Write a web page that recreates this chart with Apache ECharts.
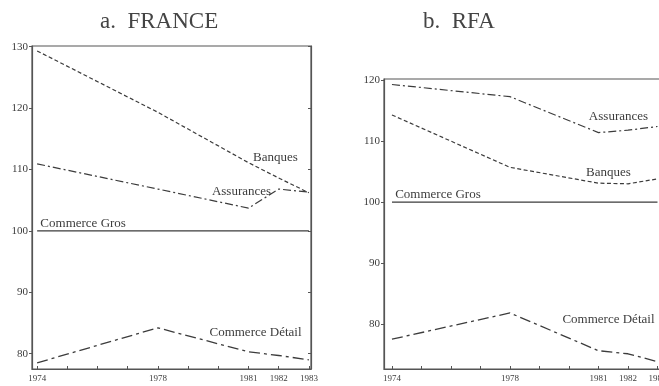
<!DOCTYPE html>
<html>
<head>
<meta charset="utf-8">
<script src="https://cdn.jsdelivr.net/npm/echarts@6/dist/echarts.min.js"></script>
<style>
  html, body { margin: 0; padding: 0; background: #ffffff; }
  #chart { width: 659px; height: 386px; }
</style>
</head>
<body>
<div id="chart"></div>
<script>
// Years observed, and the year ticks / labels on the time axis
const years = [1974, 1978, 1981, 1982, 1983];
const xTickYears = [1974, 1975, 1976, 1977, 1978, 1979, 1980, 1981, 1982, 1983];
const xLabelYears = [1974, 1978, 1981, 1982, 1983];

// a. FRANCE (index, base 100 = Commerce Gros)
const franceBanques = [129.3, 119.3, 111.1, 108.6, 106.2];
const franceAssurances = [110.9, 106.8, 103.7, 106.8, 106.3];
const franceGros = [100, 100, 100, 100, 100];
const franceDetail = [78.5, 84.2, 80.3, 79.7, 79.0];
const franceYTicks = [80, 90, 100, 110, 120, 130];

// b. RFA
const rfaBanques = [114.3, 105.7, 103.1, 103.0, 103.8];
const rfaAssurances = [119.3, 117.3, 111.4, 111.8, 112.4];
const rfaGros = [100, 100, 100, 100, 100];
const rfaDetail = [77.5, 81.8, 75.6, 75.1, 73.8];
const rfaYTicks = [80, 90, 100, 110, 120];

const SERIF = 'Liberation Serif';
const INK = '#3c3c3c';
const AXIS = '#555555';

const styles = {
  'Banques': { type: [4, 2.5], width: 1.2 },
  'Assurances': { type: [8, 3, 2, 3], width: 1.2 },
  'Commerce Gros': { type: 'solid', width: 1.3 },
  'Commerce Détail': { type: [11, 4, 3, 4], width: 1.3 }
};

function pairs(vals) {
  return years.map((y, i) => [y, vals[i]]);
}

// One line per sector; its name is written next to the anchor point
function sector(name, vals, grid, anchor, offset) {
  return {
    type: 'line',
    name: name,
    xAxisIndex: grid,
    yAxisIndex: grid === 0 ? 0 : 2,
    data: pairs(vals),
    showSymbol: false,
    symbol: 'none',
    silent: true,
    animation: false,
    lineStyle: Object.assign({ color: INK }, styles[name]),
    markPoint: {
      symbol: 'circle',
      symbolSize: 0,
      silent: true,
      animation: false,
      data: [{
        coord: [years[anchor], vals[anchor]],
        label: {
          show: true,
          position: 'inside',
          offset: offset,
          formatter: name,
          fontFamily: SERIF,
          fontSize: 13,
          color: INK,
          align: 'center',
          verticalAlign: 'middle'
        }
      }]
    }
  };
}

function xAxis(grid, min, max) {
  return {
    type: 'value',
    gridIndex: grid,
    min: min,
    max: max,
    axisLine: { show: true, onZero: false, lineStyle: { color: AXIS, width: 1.2 } },
    axisTick: { show: true, inside: true, length: 3, customValues: xTickYears, lineStyle: { color: AXIS } },
    axisLabel: {
      customValues: xLabelYears,
      fontFamily: SERIF, fontSize: 9, color: INK, margin: 5,
      formatter: v => String(v)
    },
    splitLine: { show: false }
  };
}

function yAxis(grid, min, max, ticks, side, labels) {
  return {
    type: 'value',
    gridIndex: grid,
    position: side,
    min: min,
    max: max,
    axisLine: { show: true, onZero: false, lineStyle: { color: AXIS, width: 1.2 } },
    axisTick: { show: true, inside: side === 'right', length: 3, customValues: ticks, lineStyle: { color: AXIS } },
    axisLabel: {
      show: labels,
      customValues: ticks,
      fontFamily: SERIF, fontSize: 11, color: INK, margin: 4
    },
    splitLine: { show: false }
  };
}

const chart = echarts.init(document.getElementById('chart'), null, { renderer: 'canvas' });

chart.setOption({
  backgroundColor: '#ffffff',
  animation: false,
  graphic: [
    { type: 'text', left: 100, top: 10, style: { text: 'a.  FRANCE', font: '23px "Liberation Serif"', fill: '#444' } },
    { type: 'text', left: 423, top: 10, style: { text: 'b.  RFA', font: '23px "Liberation Serif"', fill: '#444' } }
  ],
  grid: [
    { left: 32, top: 46, width: 279, height: 323, outerBoundsMode: 'none', show: true, borderColor: AXIS, borderWidth: 1.2, backgroundColor: 'transparent' },
    { left: 384, top: 79, width: 290, height: 290, outerBoundsMode: 'none', show: true, borderColor: AXIS, borderWidth: 1.2, backgroundColor: 'transparent' }
  ],
  xAxis: [
    xAxis(0, 1973.83, 1983.07),
    xAxis(1, 1973.73, 1983.56)
  ],
  yAxis: [
    yAxis(0, 77.5, 130.1, franceYTicks, 'left', true),
    yAxis(0, 77.5, 130.1, franceYTicks, 'right', false),
    yAxis(1, 72.6, 120.2, rfaYTicks, 'left', true)
  ],
  series: [
    sector('Banques', franceBanques, 0, 2, [27, -5]),
    sector('Assurances', franceAssurances, 0, 2, [-7, -17]),
    sector('Commerce Gros', franceGros, 0, 0, [46, -7]),
    sector('Commerce Détail', franceDetail, 0, 2, [7, -19]),
    sector('Banques', rfaBanques, 1, 2, [10, -11]),
    sector('Assurances', rfaAssurances, 1, 2, [20, -16]),
    sector('Commerce Gros', rfaGros, 1, 0, [46, -7]),
    sector('Commerce Détail', rfaDetail, 1, 2, [10, -31])
  ]
});
</script>
</body>
</html>
